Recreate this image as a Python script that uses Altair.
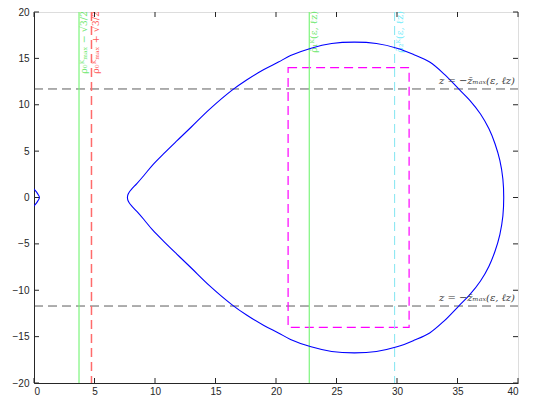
import altair as alt
import pandas as pd

# ---- data ----
upper_x = [7.72, 7.76, 7.88, 8.1, 8.5, 9.1, 9.8, 10.7, 11.8, 13.0, 14.5, 16.4, 17.6, 19.0, 20.2, 21.2,
           22.9, 24.6, 26.5, 28.3, 30.0, 31.4, 32.7, 33.9, 35.1, 36.0, 36.9, 37.6, 38.1, 38.5, 38.75, 38.82]
upper_y = [0.0, 0.3, 0.6, 0.95, 1.5, 2.4, 3.5, 4.7, 6.1, 7.6, 9.5, 11.6, 12.7, 13.8, 14.6, 15.3,
           16.1, 16.6, 16.75, 16.6, 16.1, 15.4, 14.6, 13.3, 11.7, 10.5, 9.0, 7.4, 5.8, 4.0, 2.0, 0.0]
lower_x = [38.75, 38.5, 38.1, 37.6, 36.9, 36.0, 35.1, 33.9, 32.7, 31.4, 30.0, 28.3, 26.5, 24.6, 22.9,
           21.2, 20.2, 19.0, 17.6, 16.4, 14.5, 13.0, 11.8, 10.7, 9.8, 9.1, 8.5, 8.1, 7.88, 7.76, 7.72]
lower_y = [-2.0, -4.0, -5.8, -7.4, -9.0, -10.5, -11.7, -13.3, -14.6, -15.4, -16.1, -16.6, -16.75, -16.6, -16.1,
           -15.3, -14.6, -13.8, -12.7, -11.6, -9.5, -7.6, -6.1, -4.7, -3.5, -2.4, -1.5, -0.95, -0.6, -0.3, 0.0]

small_x = [-0.2, 0.0, 0.2, 0.35, 0.45, 0.35, 0.2, 0.0, -0.2]
small_y = [1.1, 0.9, 0.6, 0.3, 0.0, -0.3, -0.6, -0.9, -1.1]

green_x = [3.72, 22.75]
green_labels = ["ρ₀ᴷₘₐₓ − √3/2", "ρ̂₁ᴷ(ε, ℓz)"]
red_x = [4.75]
red_labels = ["ρ₀ᴷₘₐₓ + √3/2"]
cyan_x = [29.8]
cyan_labels = ["ρ̂₂ᴷ(ε, ℓz)"]

zbar_y = [11.7, -11.7]
zbar_labels = ["z = −z̄ₘₐₓ(ε, ℓz)", "z = −z̄ₘₐₓ(ε, ℓz)"]

rect_x = [21.0, 31.0]
rect_y = [-14.0, 14.0]

x_ticks = [0, 5, 10, 15, 20, 25, 30, 35, 40]
y_ticks = [-20, -15, -10, -5, 0, 5, 10, 15, 20]

W, H = 484, 371
AX = "#262626"

xs = alt.Scale(domain=[0, 40], nice=False, zero=False)
ys = alt.Scale(domain=[-20, 20], nice=False, zero=False)

curve = pd.DataFrame({"x": upper_x + lower_x, "y": upper_y + lower_y,
                      "i": list(range(len(upper_x) + len(lower_x)))})
small = pd.DataFrame({"x": small_x, "y": small_y, "i": list(range(len(small_x)))})

xaxis = alt.Axis(values=x_ticks, ticks=False, grid=False, title=None, labelPadding=3,
                 domainColor=AX, labelColor=AX, labelFont="Liberation Sans", labelFontSize=10)
yaxis = alt.Axis(values=y_ticks, ticks=False, grid=False, title=None, labelPadding=5,
                 domainColor=AX, labelColor=AX, labelFont="Liberation Sans", labelFontSize=10)

base_curve = alt.Chart(curve).mark_line(color="#0000ff", strokeWidth=1.1, interpolate="catmull-rom").encode(
    x=alt.X("x:Q", scale=xs, axis=xaxis),
    y=alt.Y("y:Q", scale=ys, axis=yaxis),
    order="i:Q",
)
small_curve = alt.Chart(small).mark_line(color="#0000ff", strokeWidth=1.1, clip=True,
                                         interpolate="catmull-rom").encode(
    x=alt.X("x:Q", scale=xs), y=alt.Y("y:Q", scale=ys), order="i:Q")

hlines = alt.Chart(pd.DataFrame({"y": zbar_y, "t": zbar_labels}))
hrule = hlines.mark_rule(color="#333333", strokeDash=[9, 5], strokeWidth=0.8).encode(
    y=alt.Y("y:Q", scale=ys), x=alt.value(0), x2=alt.value(W))
htext = hlines.mark_text(align="right", baseline="bottom", dy=-3, dx=-3, fontSize=10,
                         font="DejaVu Serif", fontStyle="italic", color="#3a3a3a").encode(
    y=alt.Y("y:Q", scale=ys), x=alt.value(W), text="t:N")

rect = alt.Chart(pd.DataFrame({"x": [rect_x[0]], "x2": [rect_x[1]], "y": [rect_y[0]], "y2": [rect_y[1]]})).mark_rect(
    filled=False, stroke="#ff00ff", strokeDash=[9, 5], strokeWidth=1.2).encode(
    x=alt.X("x:Q", scale=xs), x2="x2:Q", y=alt.Y("y:Q", scale=ys), y2="y2:Q")

def vlines(xv, labels, color, width=1.2, dash=None, tcolor=None):
    d = alt.Chart(pd.DataFrame({"x": xv, "t": labels}))
    kw = dict(color=color, strokeWidth=width)
    if dash:
        kw["strokeDash"] = dash
    r = d.mark_rule(**kw).encode(x=alt.X("x:Q", scale=xs), y=alt.value(0), y2=alt.value(H))
    t = d.mark_text(angle=270, align="right", baseline="top", dx=2, fontSize=9.5,
                    font="DejaVu Serif", color=tcolor or color).encode(
        x=alt.X("x:Q", scale=xs), y=alt.value(1), text="t:N")
    return r + t

green = vlines(green_x, green_labels, "#7cf57c", tcolor="#6ee86e")
red = vlines(red_x, red_labels, "#ff6b6b", width=1.5, dash=[9, 5], tcolor="#ff5a5a")
cyan = vlines(cyan_x, cyan_labels, "#8ee8f2", width=1.1, dash=[9, 5], tcolor="#74ecfa")

tick_df_x = alt.Chart(pd.DataFrame({"v": x_ticks}))
xt_bot = tick_df_x.mark_rule(color=AX).encode(x=alt.X("v:Q", scale=xs), y=alt.value(H), y2=alt.value(H - 5))
xt_top = tick_df_x.mark_rule(color=AX).encode(x=alt.X("v:Q", scale=xs), y=alt.value(0), y2=alt.value(5))
tick_df_y = alt.Chart(pd.DataFrame({"v": y_ticks}))
yt_l = tick_df_y.mark_rule(color=AX).encode(y=alt.Y("v:Q", scale=ys), x=alt.value(0), x2=alt.value(5))
yt_r = tick_df_y.mark_rule(color=AX).encode(y=alt.Y("v:Q", scale=ys), x=alt.value(W), x2=alt.value(W - 5))

chart = alt.layer(
    hrule, rect, green, red, cyan, base_curve, small_curve, htext,
    xt_bot, xt_top, yt_l, yt_r,
).properties(
    width=W, height=H,
    autosize=alt.AutoSizeParams(type="none"),
    padding={"left": 26, "top": 4, "right": 10, "bottom": 13},
).configure_view(stroke=AX, strokeWidth=1).configure(background="white")

chart.save("out.html", embed_options={"renderer": "svg", "actions": False})
